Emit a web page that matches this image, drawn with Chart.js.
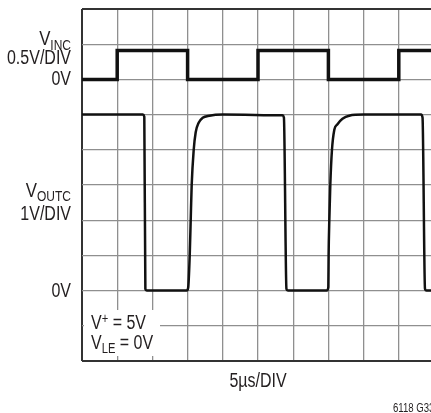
<!DOCTYPE html>
<html>
<head>
<meta charset="utf-8">
<script src="https://cdn.jsdelivr.net/npm/chart.js@4"></script>
<style>
  html, body { margin: 0; padding: 0; background: #fff; overflow: hidden; }
  #wrap { width: 440px; height: 413px; }
</style>
</head>
<body>
<div id="wrap"><canvas id="scope" width="440" height="413"></canvas></div>
<script>
// Input trace (V_INC), time in us, volts
const inTime  = [0, 5, 5, 15, 15, 25, 25, 35, 35, 45, 45, 50];
const inVolts = [0, 0, 0.41, 0.41, 0, 0, 0.41, 0.41, 0, 0, 0.41, 0.41];

// Output trace (V_OUTC)
const outTime  = [0, 8.64, 8.85, 9.0, 9.2, 14.87, 15.08, 15.3, 15.44, 15.58, 15.86, 16.15, 16.57, 17.14, 18.1, 20,
                  28.47, 28.68, 29.04, 29.25, 34.77, 34.99, 35.03, 35.13, 35.27, 35.5, 35.84, 36.26, 37.0, 37.96, 40,
                  48.16, 48.37, 48.72, 48.94, 50];
const outVolts = [5, 5, 4.94, 0.05, 0, 0, 0.08, 1, 2, 3, 3.98, 4.5, 4.77, 4.91, 4.97, 5,
                  4.98, 4.92, 0.05, 0, 0, 0.1, 1, 2, 3, 3.98, 4.57, 4.72, 4.88, 4.97, 5,
                  5, 4.92, 0.05, 0, 0];

const FONT = '"Liberation Sans", Arial, sans-serif';
const SX = 0.8;   // condensed look
const INK = '#231f20';

function toPoints(xs, ys) {
  return xs.map((x, i) => ({ x: x, y: ys[i] }));
}

// text with optional sub/superscript pieces: [text, 'n'|'sub'|'sup']
function drawRich(ctx, parts, x, y, align, size) {
  const small = Math.round(size * 0.72);
  let total = 0;
  parts.forEach(p => {
    ctx.font = (p[1] === 'n' ? size : small) + 'px ' + FONT;
    total += ctx.measureText(p[0]).width * SX;
  });
  let cx = align === 'right' ? x - total : (align === 'center' ? x - total / 2 : x);
  ctx.textAlign = 'left';
  ctx.textBaseline = 'alphabetic';
  parts.forEach(p => {
    ctx.font = (p[1] === 'n' ? size : small) + 'px ' + FONT;
    let dy = 0;
    if (p[1] === 'sub') dy = size * 0.2;
    if (p[1] === 'sup') dy = -size * 0.3;
    ctx.save();
    ctx.translate(cx, y + dy);
    ctx.scale(SX, 1);
    ctx.fillText(p[0], 0, 0);
    ctx.restore();
    cx += ctx.measureText(p[0]).width * SX;
  });
}

const labelsPlugin = {
  id: 'scopeLabels',
  afterDraw(chart) {
    const ctx = chart.ctx;
    const area = chart.chartArea;
    const yIn = chart.scales.y;
    const yOut = chart.scales.y2;
    const lx = area.left - 11;
    ctx.save();
    ctx.fillStyle = INK;

    const in0 = yIn.getPixelForValue(0);
    drawRich(ctx, [['V', 'n'], ['INC', 'sub']], lx, in0 - 34, 'right', 21);
    drawRich(ctx, [['0.5V/DIV', 'n']], lx, in0 - 15, 'right', 20);
    drawRich(ctx, [['0V', 'n']], lx, in0 + 6, 'right', 20);

    const out0 = yOut.getPixelForValue(0);
    drawRich(ctx, [['V', 'n'], ['OUTC', 'sub']], lx, out0 - 94, 'right', 21);
    drawRich(ctx, [['1V/DIV', 'n']], lx, out0 - 71, 'right', 20);
    drawRich(ctx, [['0V', 'n']], lx, out0 + 6, 'right', 20);

    // supply conditions box
    ctx.fillStyle = '#fff';
    ctx.fillRect(area.left + 2, 310, 76, 46);
    ctx.fillStyle = INK;
    drawRich(ctx, [['V', 'n'], ['+', 'sup'], [' = 5V', 'n']], area.left + 9, 329, 'left', 20);
    drawRich(ctx, [['V', 'n'], ['LE', 'sub'], [' = 0V', 'n']], area.left + 9, 349, 'left', 20);

    drawRich(ctx, [['5\u00b5s/DIV', 'n']], (area.left + area.right) / 2, 387, 'center', 20);
    drawRich(ctx, [['6118 G33', 'n']], 393, 412, 'left', 12);
    ctx.restore();
  }
};

function isEdge(c) {
  return c.index === 0 || c.index === c.chart.scales[c.scale.id].ticks.length - 1;
}

new Chart(document.getElementById('scope'), {
  type: 'scatter',
  data: {
    datasets: [
      {
        label: 'VINC',
        data: toPoints(inTime, inVolts),
        showLine: true,
        borderColor: '#111',
        borderWidth: 3.5,
        pointRadius: 0,
        tension: 0,
        yAxisID: 'y'
      },
      {
        label: 'VOUTC',
        data: toPoints(outTime, outVolts),
        showLine: true,
        borderColor: '#111',
        borderWidth: 2.5,
        pointRadius: 0,
        cubicInterpolationMode: 'monotone',
        yAxisID: 'y2'
      }
    ]
  },
  options: {
    responsive: false,
    devicePixelRatio: 1,
    animation: false,
    layout: { padding: { left: 82, top: 9, right: 6, bottom: 52 } },
    plugins: { legend: { display: false }, tooltip: { enabled: false } },
    scales: {
      x: {
        type: 'linear',
        min: 0, max: 50,
        ticks: { stepSize: 5, display: false },
        border: { display: false },
        grid: {
          color: c => isEdge(c) ? '#333' : '#8f8f8f',
          lineWidth: c => isEdge(c) ? 2 : 1.3,
          drawTicks: false
        },
        afterFit(s) { s.height = 0; }
      },
      y: {
        min: -4, max: 1,
        ticks: { stepSize: 0.5, display: false },
        border: { display: false },
        grid: {
          color: c => isEdge(c) ? '#333' : '#8f8f8f',
          lineWidth: c => isEdge(c) ? 2 : 1.3,
          drawTicks: false
        },
        afterFit(s) { s.width = 0; }
      },
      y2: {
        min: -2, max: 8,
        display: false
      }
    }
  },
  plugins: [labelsPlugin]
});
</script>
</body>
</html>
